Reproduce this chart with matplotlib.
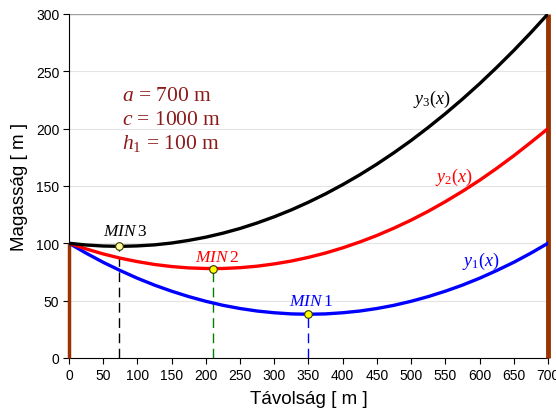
import numpy as np
import matplotlib
matplotlib.use("Agg")
import matplotlib.pyplot as plt

plt.rcParams['font.family'] = ['Liberation Sans', 'DejaVu Sans']
plt.rcParams['mathtext.fontset'] = 'custom'
plt.rcParams['mathtext.rm'] = 'Liberation Serif'
plt.rcParams['mathtext.it'] = 'Liberation Serif:italic'

# Distance along the span [m]
x = [0, 25, 50, 75, 100, 125, 150, 175, 200, 225, 250, 275, 300, 325, 350,
     375, 400, 425, 450, 475, 500, 525, 550, 575, 600, 625, 650, 675, 700]

# Rope heights [m]
y1 = [100.0, 91.4, 83.4, 76.2, 69.5, 63.5, 58.2, 53.5, 49.4, 45.9, 43.1, 40.9, 39.4, 38.4, 38.1,
      38.4, 39.4, 40.9, 43.1, 45.9, 49.4, 53.5, 58.2, 63.5, 69.5, 76.2, 83.4, 91.4, 100.0]
y2 = [100.0, 95.1, 90.7, 87.0, 84.0, 81.5, 79.7, 78.5, 78.0, 78.0, 78.7, 80.0, 82.0, 84.5, 87.7,
      91.5, 96.0, 101.1, 106.8, 113.2, 120.2, 127.9, 136.3, 145.3, 154.9, 165.3, 176.3, 188.0, 200.0]
y3 = [100.0, 98.5, 97.6, 97.3, 97.7, 98.6, 100.2, 102.5, 105.3, 108.8, 112.9, 117.7, 123.1, 129.1, 135.8,
      143.1, 151.1, 159.7, 169.0, 179.0, 189.6, 201.0, 213.0, 225.7, 239.1, 253.3, 268.1, 283.7, 300.0]

# Minimum points (x, y)
min_x = [350, 210, 73.5]
min_y = [38.1, 77.9, 97.3]
min_names = ['1', '2', '3']

fig = plt.figure(figsize=(5.56, 4.14), dpi=100)
ax = fig.add_axes([0.124, 0.133, 0.8616, 0.831])

# grid lines
for g in [50, 100, 150, 200, 250]:
    ax.axhline(g, color='#e4e4e4', lw=0.8, zorder=0)
ax.axhline(300, color='#a0a0a0', lw=1.0, zorder=0)

# poles
ax.plot([x[0], x[0]], [0, y1[0]], color='#993300', lw=2.5, zorder=3,
        solid_capstyle='butt', clip_on=False)
ax.plot([x[-1], x[-1]], [0, y3[-1]], color='#993300', lw=3.5, zorder=3,
        solid_capstyle='butt', clip_on=False)

ax.plot(x, y1, color='#0000ff', lw=2.4, zorder=4)
ax.plot(x, y2, color='#ff0000', lw=2.4, zorder=4)
ax.plot(x, y3, color='#000000', lw=2.4, zorder=4)

# dashed drop lines and min markers
line_cols = ['#0000ff', '#008000', '#000000']
face_cols = ['#ffff00', '#ffff00', '#ffff99']
for mx, my, lc, fc in zip(min_x, min_y, line_cols, face_cols):
    ax.plot([mx, mx], [0, my], color=lc, lw=1.0, ls=(0, (7, 4)), zorder=2)
    ax.plot(mx, my, 'o', ms=5.5, mfc=fc, mec='#333300', mew=0.8, zorder=5)

# MIN labels
txt_cols = ['#0000ff', '#ff0000', '#000000']
txt_pos = [(354, 50), (216, 88), (82, 111)]
for name, (tx, ty), tc in zip(min_names, txt_pos, txt_cols):
    ax.text(tx, ty, r'$\mathit{MIN}\,$' + name, color=tc, fontsize=12.5,
            ha='center', va='center', family='Liberation Serif', zorder=6)

# curve labels
ax.text(601, 85, r'$y_1(x)$', color='#0000ff', fontsize=13, ha='center', va='center')
ax.text(562, 158, r'$y_2(x)$', color='#ff0000', fontsize=13, ha='center', va='center')
ax.text(530, 226, r'$y_3(x)$', color='#000000', fontsize=13, ha='center', va='center')

# parameters
pcol = '#8b1a1a'
ax.text(78, 229, r'$a$ = 700 m', color=pcol, fontsize=15.5, va='center', family='Liberation Serif')
ax.text(78, 208, r'$c$ = 1000 m', color=pcol, fontsize=15.5, va='center', family='Liberation Serif')
ax.text(78, 188, r'$h_1$ = 100 m', color=pcol, fontsize=15.5, va='center', family='Liberation Serif')

ax.set_xlim(0, 700)
ax.set_ylim(0, 300)
ax.set_xticks(np.arange(0, 701, 50))
ax.set_yticks(np.arange(0, 301, 50))
ax.tick_params(direction='out', length=4, width=0.8, labelsize=10, pad=3)
ax.spines['top'].set_visible(False)
ax.spines['right'].set_visible(False)
ax.set_xlabel('Távolság [ m ]', fontsize=13.5, labelpad=6)
ax.set_ylabel('Magasság [ m ]', fontsize=13.5, labelpad=6)

fig.savefig('out.png', dpi=100)
